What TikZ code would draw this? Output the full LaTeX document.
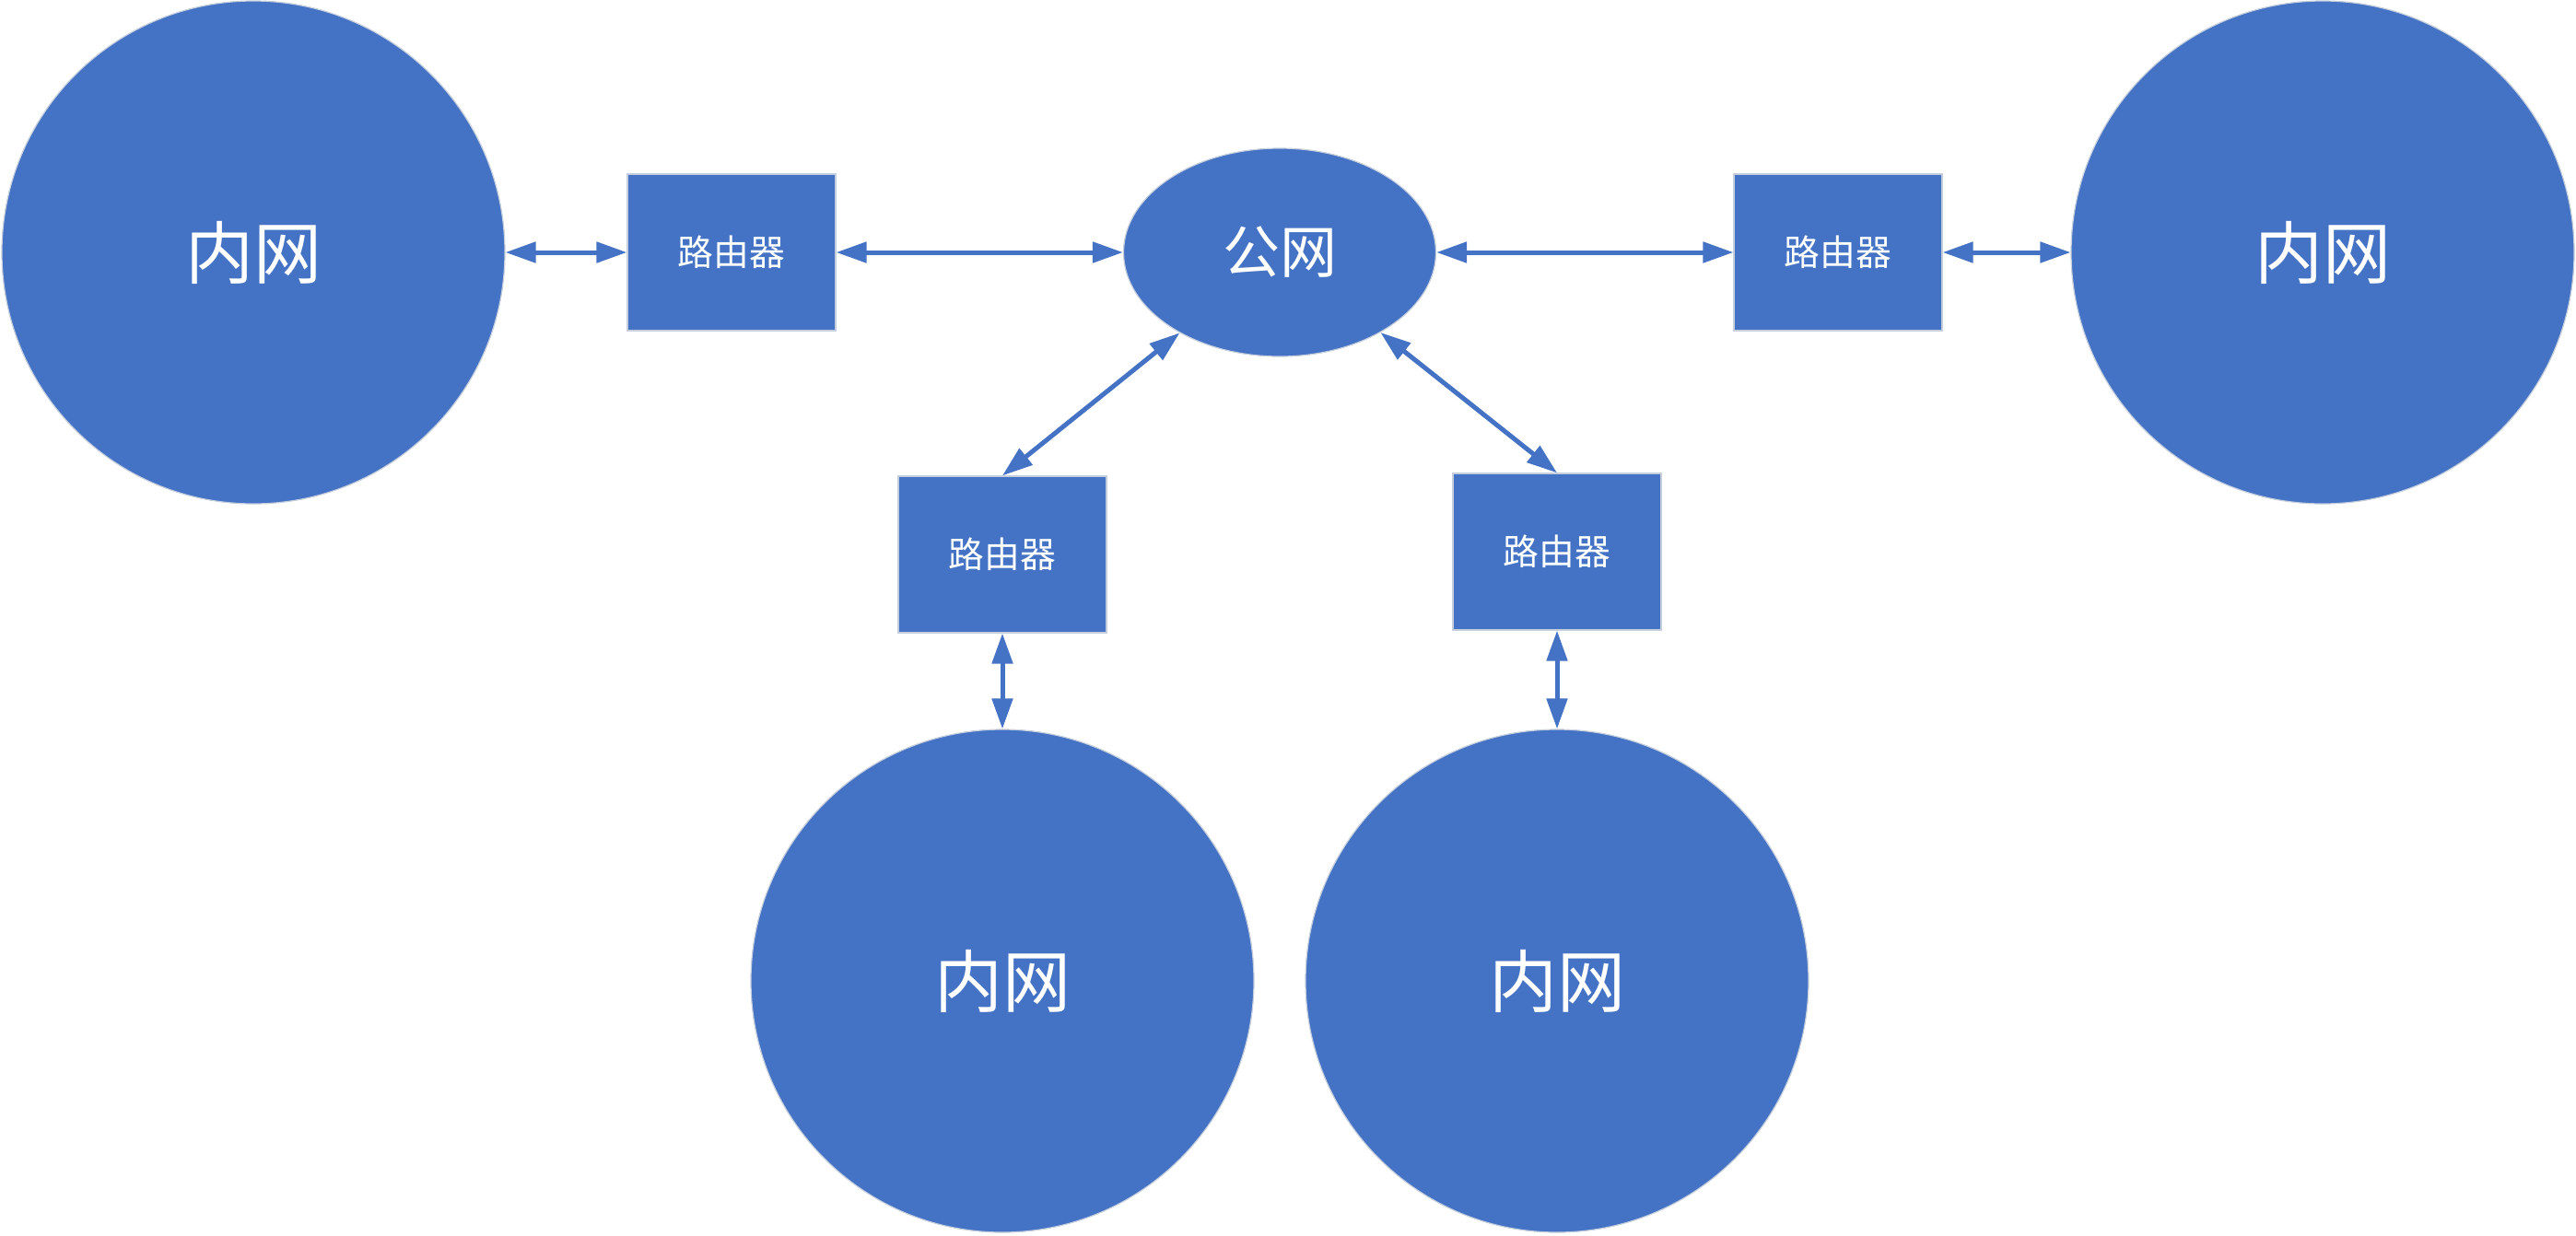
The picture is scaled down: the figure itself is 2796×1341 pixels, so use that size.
\documentclass[tikz,border=0pt]{standalone}
\usepackage{fontspec}
\newfontfamily\cjk{Noto Sans CJK SC}
\usetikzlibrary{arrows.meta,shapes.geometric}
\definecolor{Office}{HTML}{4472C4}
\definecolor{Edge}{HTML}{C5CEDD}

\begin{document}
\begin{tikzpicture}[
  x=0.25pt,
  y=-0.25pt,
  lan/.style={circle,fill=Office,draw=Edge,line width=0.3pt,minimum size=136.5pt,inner sep=0pt,text=white,font=\cjk\fontsize{18.5}{20}\selectfont},
  router/.style={rectangle,fill=Office,draw=Edge,line width=0.3pt,minimum width=56.5pt,minimum height=42.5pt,inner sep=0pt,text=white,font=\cjk\fontsize{9.7}{11}\selectfont},
  wan/.style={ellipse,fill=Office,draw=Edge,line width=0.3pt,minimum width=84.75pt,minimum height=56.5pt,inner sep=0pt,text=white,font=\cjk\fontsize{15.5}{17}\selectfont},
  link/.style={draw=Office,line width=1.25pt,{Triangle[length=8.25pt,width=5.5pt]}-{Triangle[length=8.25pt,width=5.5pt]}}
]
  \useasboundingbox (0,0) rectangle (2796,1341);

  % Top row
  \node[lan] (lanA) at (275,274) {内网};
  \node[router] (rA) at (794,274) {路由器};
  \node[wan] (pub) at (1389,274) {公网};
  \node[router] (rB) at (1995,274) {路由器};
  \node[lan] (lanB) at (2521,274) {内网};

  % Bottom row
  \node[router] (rC) at (1088,602) {路由器};
  \node[router] (rD) at (1690,599) {路由器};
  \node[lan] (lanC) at (1088,1065) {内网};
  \node[lan] (lanD) at (1690,1065) {内网};

  % Links
  \foreach \a/\b in {lanA/rA,rA/pub,pub/rB,rB/lanB,rC/lanC,rD/lanD} {\draw[link] (\a) -- (\b);}
  \draw[link] (pub) -- (rC.north);
  \draw[link] (pub) -- (rD.north);
\end{tikzpicture}
\end{document}
